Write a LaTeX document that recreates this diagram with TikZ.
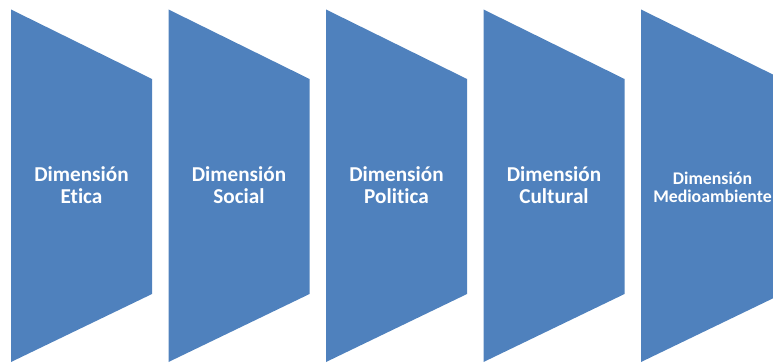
\documentclass[tikz,border=0pt]{standalone}
\usepackage{fontspec}
\setmainfont[Ligatures=NoCommon]{Carlito}
\definecolor{chevblue}{HTML}{4F81BD}
\tikzset{
  chev/.style={fill=chevblue, draw=none},
  lbl/.style={text=white, font=\bfseries\fontsize{21.2}{22}\selectfont, align=center, inner sep=0pt},
  lblsmall/.style={text=white, font=\bfseries\fontsize{17.8}{18}\selectfont, align=center, inner sep=0pt}
}
\begin{document}
\begin{tikzpicture}[x=1pt,y=1pt]
\useasboundingbox (0,0) rectangle (773,362);
\clip (0,0) rectangle (773,362);
\foreach \i in {0,...,4}{
  \pgfmathsetmacro{\xo}{11+157.5*\i}
  \fill[chev] (\xo,352.5) -- (\xo+141,283) -- (\xo+141,68) -- (\xo,0) -- cycle;
}
\node[lbl] (t1) at (81.5,176.5) {Dimensión\\Etica};
\node[lbl] (t2) at (239,176.5) {Dimensión\\Social};
\node[lbl] (t3) at (396.5,176.5) {Dimensión\\Politica};
\node[lbl] (t4) at (554,176.5) {Dimensión\\Cultural};
\node[lblsmall] (t5) at (712.5,174.5) {Dimensión\\Medioambiente};
\end{tikzpicture}
\end{document}
